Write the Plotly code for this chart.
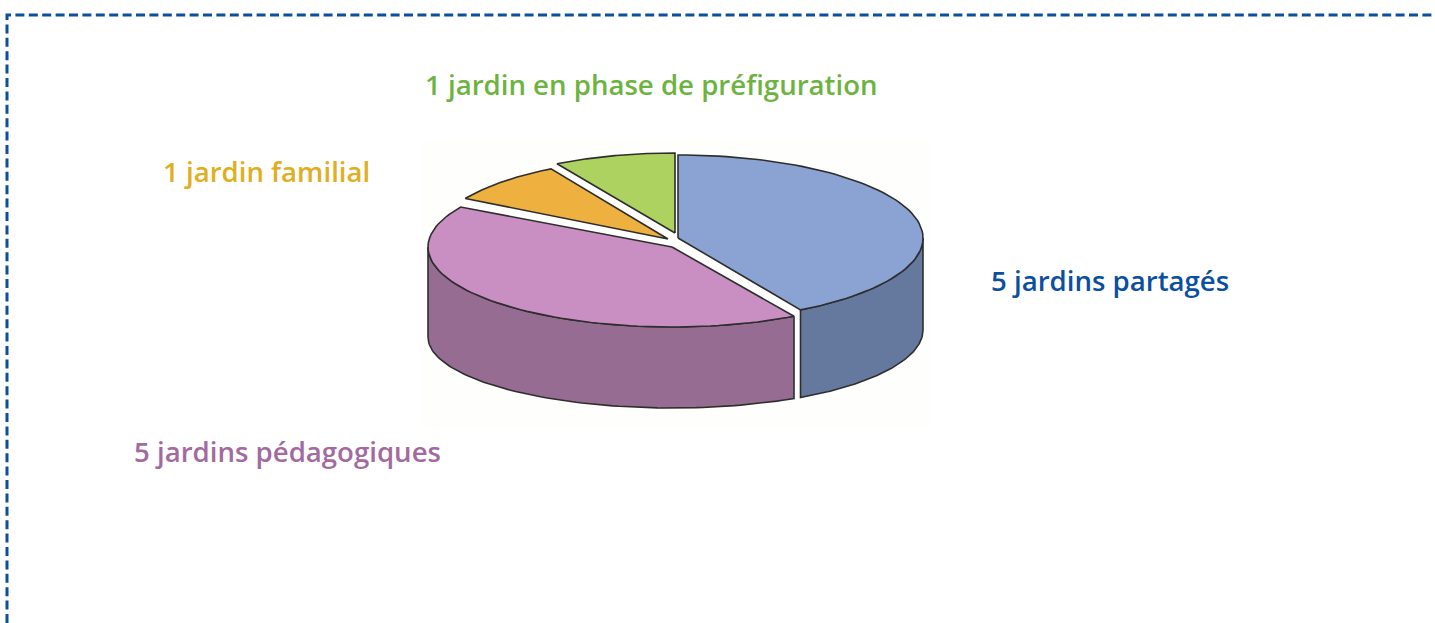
import numpy as np
import plotly.graph_objects as go

# Data
categories = ["jardins partagés", "jardins pédagogiques", "jardin familial", "jardin en phase de préfiguration"]
values = [5, 5, 1, 1]
labels = ["5 jardins partagés", "5 jardins pédagogiques", "1 jardin familial", "1 jardin en phase de préfiguration"]

# Styles
top_colors = ["#8aa3d3", "#c98fc2", "#eeb13f", "#add25f"]
side_colors = ["#65799f", "#976c92", None, None]
text_colors = ["#0b4f9e", "#a36a9f", "#e0ae1e", "#6db33f"]
label_x = [1110, 287, 266, 651]
label_y = [280, 451, 171, 84]

# Per-slice projected geometry: apex x, apex y, rx, ry, bottom-centre y, bottom ry
geom = [
    (678, 238, 245, 83, 330, 78),
    (672, 247, 244, 80, 337, 71),
    (668, 239, 234, 81, None, None),
    (675, 233, 236, 80, None, None),
]
OUTLINE = "#2e2e2e"

fig = go.Figure()


def rim(cx, cy, rx, ry, a0, a1):
    t = np.radians(np.linspace(a0, a1, 80))
    return cx + rx * np.sin(t), cy - ry * np.cos(t)


total = sum(values)
edges = np.concatenate([[0], np.cumsum(values)]) / total * 360

# Side walls first, then top faces
for i, (name, g) in enumerate(zip(categories, geom)):
    if side_colors[i] is None:
        continue
    cx, cy, rx, ry, by, bry = g
    a0, a1 = edges[i], edges[i + 1]
    s0, s1 = max(a0, 90), min(a1, 270)
    xt, yt = rim(cx, cy, rx, ry, s0, s1)
    xb, yb = rim(cx, by, rx, bry, s1, s0)
    fig.add_trace(go.Scatter(
        x=np.r_[xt, xb, xt[0]], y=np.r_[yt, yb, yt[0]], mode="lines", fill="toself",
        fillcolor=side_colors[i], line=dict(color=OUTLINE, width=1.6), hoverinfo="skip", showlegend=False))

for i, (name, g) in enumerate(zip(categories, geom)):
    cx, cy, rx, ry, by, bry = g
    xt, yt = rim(cx, cy, rx, ry, edges[i], edges[i + 1])
    fig.add_trace(go.Scatter(
        x=np.r_[cx, xt, cx], y=np.r_[cy, yt, cy], mode="lines", fill="toself", name=name,
        fillcolor=top_colors[i], line=dict(color=OUTLINE, width=1.6), showlegend=False,
        text=f"{name}: {values[i]}", hoverinfo="text"))

for lab, x, y, c in zip(labels, label_x, label_y, text_colors):
    fig.add_annotation(x=x, y=y, text=lab, showarrow=False, xanchor="center", yanchor="middle",
                       font=dict(family="Open Sans", size=27.6, color=c, weight=600))

fig.add_shape(type="rect", x0=422, y0=138, x1=930, y1=430, layer="below",
              line=dict(width=0), fillcolor="#fefefc")
fig.add_shape(type="path", path="M 7 623 L 7 15 L 1435 15", layer="below",
              line=dict(color="#0b4f9e", width=3, dash="9px,4.4px"))

fig.update_layout(
    width=1435, height=623, margin=dict(l=0, r=0, t=0, b=0),
    paper_bgcolor="white", plot_bgcolor="white",
    xaxis=dict(range=[0, 1435], visible=False, fixedrange=True),
    yaxis=dict(range=[623, 0], visible=False, fixedrange=True),
)
fig.write_html("out.html", config=dict(displayModeBar=False),
               post_script="document.body.style.margin='0';document.body.style.overflow='hidden';")
